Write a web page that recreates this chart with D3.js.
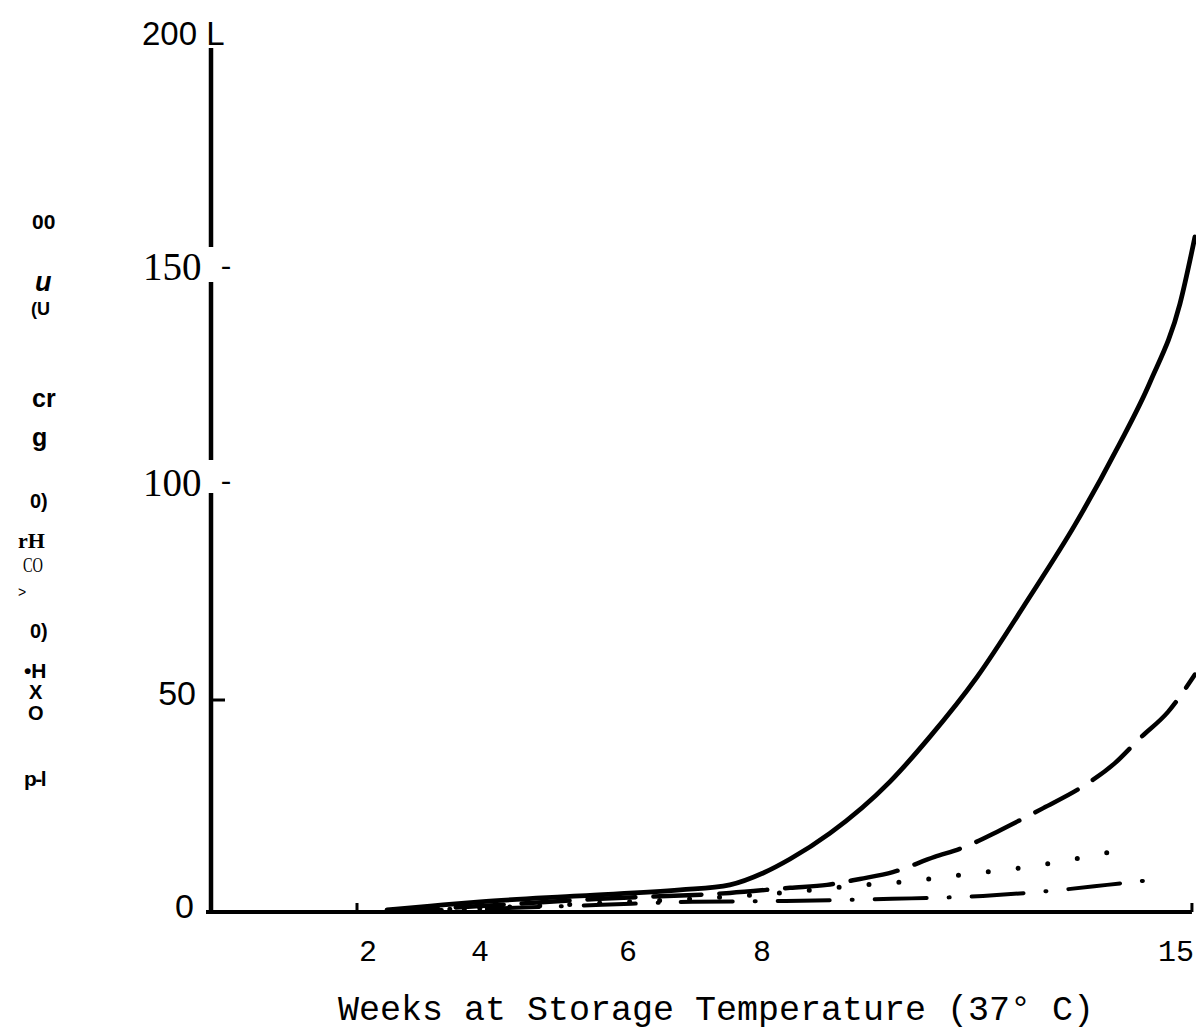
<!DOCTYPE html>
<html>
<head>
<meta charset="utf-8">
<script src="https://cdn.jsdelivr.net/npm/d3@7/dist/d3.min.js"></script>
<style>
  html, body { margin: 0; padding: 0; background: #fff; }
  svg { display: block; }
</style>
</head>
<body>
<script>
// ---------------- DATA ----------------
const xTickValues = [2, 4, 6, 8, 15];
const xTickLabels = ["2", "4", "6", "8", "15"];
const yTickValues = [0, 50, 100, 150, 200];
const yTickLabels = ["0", "50", "100", "150", "200 L"];

// weeks
const solidWeeks = [2.34, 3.11, 4.0, 5.35, 6.78, 7.52, 8.02, 8.47, 9.14, 10.14, 10.81, 11.60, 12.45, 13.24, 13.95, 14.50, 15.0, 15.25];
const solidValues = [0.5, 1.4, 2.4, 3.8, 5.2, 6.4, 9.2, 12.5, 18.6, 30.7, 41.3, 55.4, 73.6, 91.3, 109.4, 125.0, 143.5, 159.2];

const dashWeeks = [2.39, 4.0, 5.62, 7.52, 8.47, 9.09, 9.64, 10.19, 10.89, 11.35, 11.99, 12.71, 13.36, 13.91, 14.33, 14.80, 15.25];
const dashValues = [0.2, 1.4, 3.1, 4.5, 5.7, 6.4, 7.8, 9.4, 13.0, 15.1, 19.3, 24.5, 29.5, 35.1, 41.0, 47.2, 56.0];

const dotWeeks = [2.39, 4.0, 5.62, 7.37, 8.47, 9.47, 10.51, 11.47, 12.44, 13.43, 13.86];
const dotValues = [0.2, 0.9, 2.1, 3.5, 4.7, 6.1, 7.3, 9.0, 10.6, 13.0, 14.2];

const dashDotWeeks = [2.39, 4.0, 5.65, 6.96, 8.40, 10.18, 11.70, 12.99, 13.78, 14.67];
const dashDotValues = [0.2, 0.7, 1.7, 2.4, 2.6, 3.1, 3.8, 5.2, 6.4, 7.8];

// axis line pieces (value ranges, the scan has gaps at the labels)
const yAxisPieces = [[0, 98.8], [107.1, 148.6], [157.3, 203.8]];

// rotated y-axis title, as it came out of the scan
const yTitleFragments = ["00", "u", "(U", "cr", "g", "0)", "rH", "CO", ">", "0)", "•H", "X", "O", "p-l"];

const xTitle = "Weeks at Storage Temperature (37° C)";

// ---------------- LAYOUT ----------------
const W = 1196, H = 1034;
const svg = d3.select("body").append("svg").attr("width", W).attr("height", H);

const x = d3.scaleLinear().domain([0, 2, 4, 6, 8, 15]).range([210, 368, 480, 628, 762, 1180]);
const y = d3.scaleLinear().domain([0, 200]).range([912, 64]);

const ink = "#000";
const sans = "'Liberation Sans', Arial, sans-serif";
const serif = "'Liberation Serif', 'Times New Roman', serif";
const mono = "'Liberation Mono', 'Courier New', monospace";

// ---- axes ----
const axisX = 211;
svg.append("g").selectAll("line").data(yAxisPieces).join("line")
  .attr("x1", axisX).attr("x2", axisX)
  .attr("y1", d => y(d[0]) + 2).attr("y2", d => y(d[1]))
  .attr("stroke", ink).attr("stroke-width", 4.5);

svg.append("line")
  .attr("x1", 206).attr("x2", x(15.2))
  .attr("y1", y(0)).attr("y2", y(0))
  .attr("stroke", ink).attr("stroke-width", 4);

// x tick marks (short, upward)
svg.append("g").selectAll("line").data([2, 15.2]).join("line")
  .attr("x1", d => x(d) - (d === 2 ? 11 : 0)).attr("x2", d => x(d) - (d === 2 ? 11 : 0))
  .attr("y1", y(0)).attr("y2", y(0) - 9)
  .attr("stroke", ink).attr("stroke-width", 3);

// y tick at 50
svg.append("line")
  .attr("x1", axisX).attr("x2", axisX + 14)
  .attr("y1", y(50)).attr("y2", y(50))
  .attr("stroke", ink).attr("stroke-width", 3);

// ---- y tick labels ----
const yLab = svg.append("g");
yTickValues.forEach((v, i) => {
  const t = yTickLabels[i];
  if (v === 0) {
    yLab.append("text").attr("x", 194).attr("y", y(v) + 6).attr("text-anchor", "end")
      .attr("font-family", sans).attr("font-size", 34).text(t);
  } else if (v === 50) {
    yLab.append("text").attr("x", 196).attr("y", y(v) + 5).attr("text-anchor", "end")
      .attr("font-family", sans).attr("font-size", 34).text(t);
  } else if (v === 100 || v === 150) {
    yLab.append("text").attr("x", 143).attr("y", y(v) + (v === 150 ? 4 : 8))
      .attr("font-family", serif).attr("font-size", 39).text(t);
    yLab.append("text").attr("x", 221).attr("y", y(v) + (v === 150 ? -1 : 2))
      .attr("font-family", serif).attr("font-size", 30).text("-");
  } else {
    yLab.append("text").attr("x", 142).attr("y", y(v) - 19)
      .attr("font-family", sans).attr("font-size", 33).text(t);
  }
});

// ---- x tick labels ----
svg.append("g").selectAll("text").data(xTickValues).join("text")
  .attr("x", d => d === 15 ? 1194 : x(d)).attr("y", 961)
  .attr("text-anchor", d => d === 15 ? "end" : "middle")
  .attr("font-family", mono).attr("font-size", 30)
  .text((d, i) => xTickLabels[i]);

// ---- x title ----
svg.append("text").attr("x", 338).attr("y", 1020)
  .attr("font-family", mono).attr("font-size", 35).text(xTitle);

// ---- y title fragments ----
const fragStyle = [
  {x: 32, y: 229, f: sans, s: 21, w: "bold"},
  {x: 35, y: 291, f: sans, s: 27, w: "bold", it: true},
  {x: 31, y: 315, f: sans, s: 18, w: "bold"},
  {x: 32, y: 407, f: sans, s: 25, w: "bold"},
  {x: 32, y: 446, f: sans, s: 25, w: "bold"},
  {x: 30, y: 508, f: sans, s: 20, w: "bold"},
  {x: 18, y: 548, f: serif, s: 22, w: "bold"},
  {x: 23, y: 572, f: serif, s: 20, w: "normal", len: 20},
  {x: 18, y: 597, f: sans, s: 14, w: "normal"},
  {x: 30, y: 638, f: sans, s: 20, w: "bold"},
  {x: 24, y: 678, f: sans, s: 21, w: "bold"},
  {x: 29, y: 699, f: sans, s: 20, w: "bold"},
  {x: 28, y: 720, f: sans, s: 20, w: "bold"},
  {x: 24, y: 786, f: sans, s: 21, w: "bold", ls: -1.5}
];
svg.append("g").selectAll("text").data(yTitleFragments).join("text")
  .each(function(d, i) {
    const st = fragStyle[i];
    const t = d3.select(this)
      .attr("x", st.x).attr("y", st.y)
      .attr("font-family", st.f).attr("font-size", st.s)
      .attr("font-weight", st.w)
      .attr("font-style", st.it ? "italic" : "normal")
      .text(d);
    if (st.len) t.attr("textLength", st.len).attr("lengthAdjust", "spacingAndGlyphs");
    if (st.ls) t.attr("letter-spacing", st.ls);
  });

// ---- curves ----
const line = d3.line().x(d => x(d[0])).y(d => y(d[1])).curve(d3.curveMonotoneX);
const zip = (a, b) => a.map((v, i) => [v, b[i]]);

const g = svg.append("g").attr("fill", "none").attr("stroke", ink);

g.append("path").datum(zip(dashDotWeeks, dashDotValues)).attr("d", line)
  .attr("stroke-width", 4).attr("stroke-linecap", "round")
  .attr("stroke-dasharray", "52,22,1,22");

g.append("path").datum(zip(dotWeeks, dotValues)).attr("d", line)
  .attr("stroke-width", 5).attr("stroke-linecap", "round")
  .attr("stroke-dasharray", "0,30");

g.append("path").datum(zip(dashWeeks, dashValues)).attr("d", line)
  .attr("stroke-width", 4.5).attr("stroke-linecap", "round")
  .attr("stroke-dasharray", "48,18");

g.append("path").datum(zip(solidWeeks, solidValues)).attr("d", line)
  .attr("stroke-width", 4.8).attr("stroke-linecap", "round");
</script>
</body>
</html>
